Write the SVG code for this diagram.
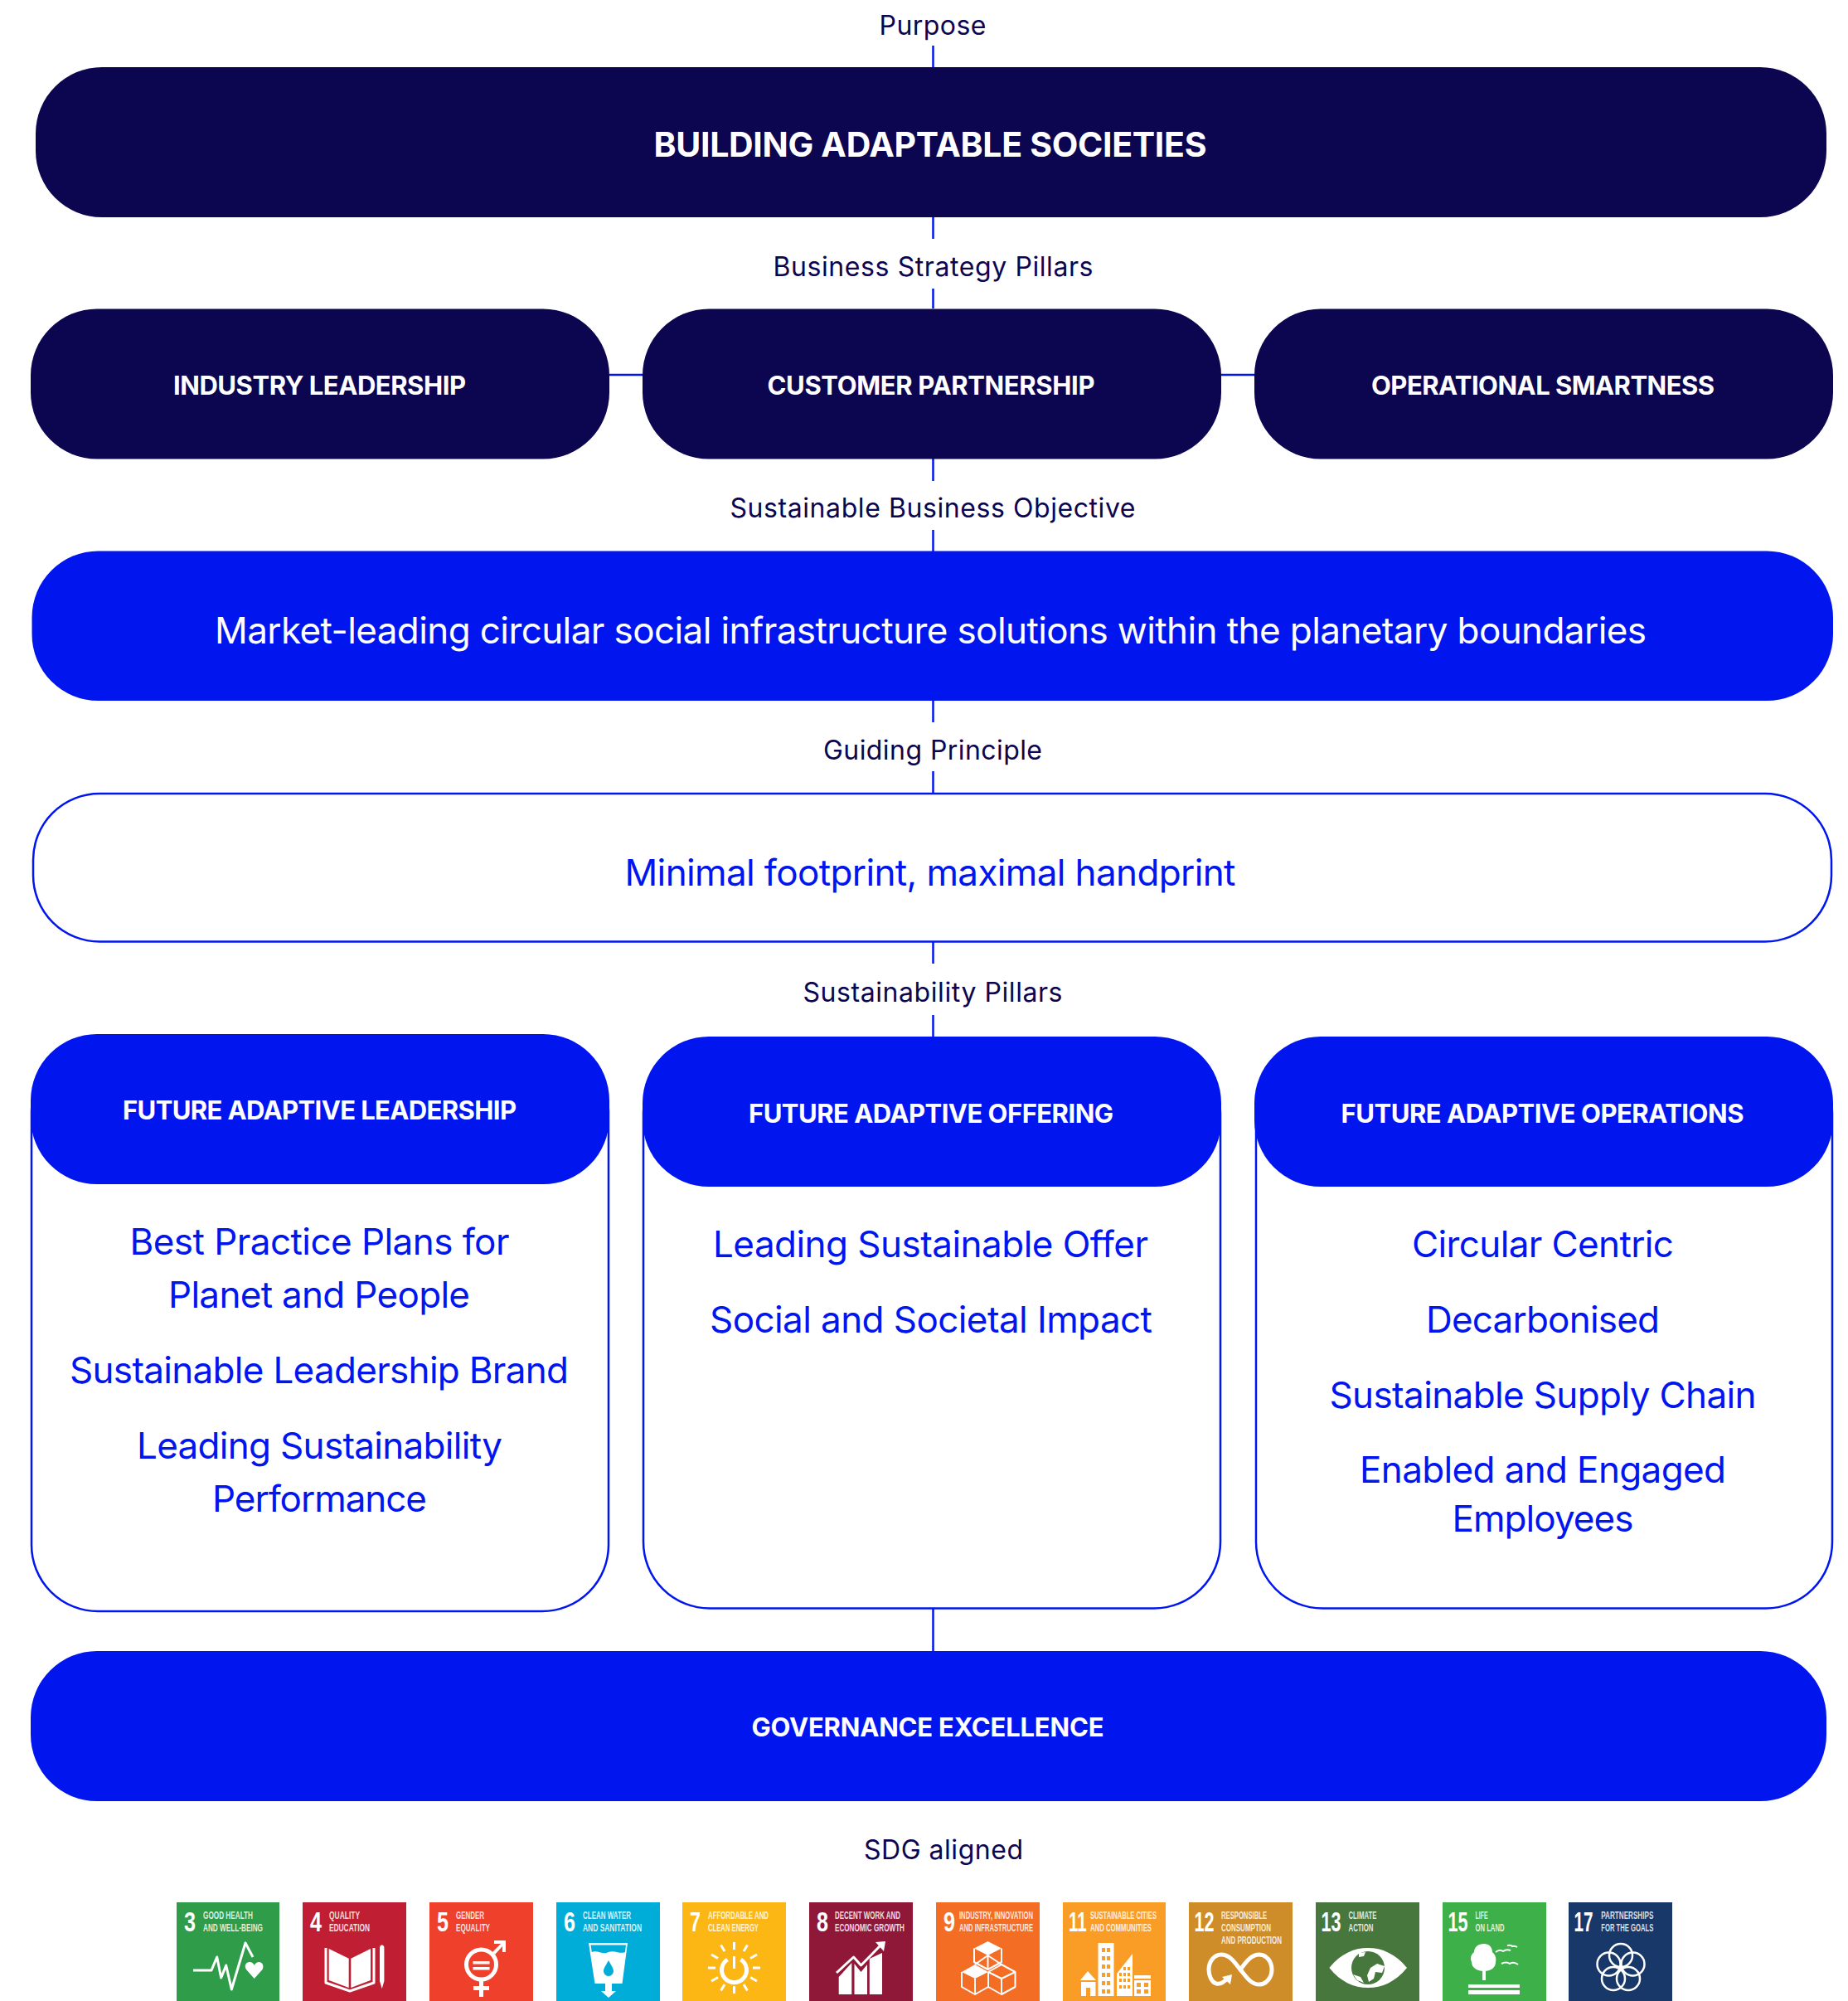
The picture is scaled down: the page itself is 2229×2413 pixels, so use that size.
<svg xmlns="http://www.w3.org/2000/svg" width="2229" height="2413" viewBox="0 0 2229 2413">
<style>
text{font-family:"Inter","Noto Sans","Liberation Sans",sans-serif;text-anchor:middle}
.lab{font-size:32px;fill:#0c0550}
.hd{font-size:31px;font-weight:700;fill:#fff}
.big{font-size:41px;font-weight:700;fill:#fff}
.body{font-size:44px;fill:#0116ee}
.bodyw{font-size:44px;fill:#fff}
.navy{fill:#0c0550}
.blue{fill:#0116ee}
.line{stroke:#0116ee;stroke-width:2.5;fill:none}
.out{stroke:#0116ee;stroke-width:2.5;fill:#fff}
.t text{font-family:"Liberation Sans Narrow","Liberation Sans",sans-serif;text-anchor:start;fill:#fff;font-weight:700}
.n{font-size:33px}
.s{font-size:12.5px;fill-opacity:.85}
.w{fill:#fff}
.st{fill:none;stroke:#fff;stroke-width:3;stroke-linejoin:round}
</style>
<rect width="2229" height="2413" fill="#fff"/>
<g id="connectors">
<path class="line" d="M1125.5 55V81M1125.5 262V288M1125.5 348V372M1125.5 553V580M1125.5 639V665M1125.5 845V871M1125.5 930V957M1125.5 1136V1162M1125.5 1224V1250M1125.5 1939V1991M735 452H775M1472 452H1513"/>
</g>
<g id="label-purpose"><text class="lab" x="1125" y="42" textLength="129">Purpose</text></g>
<g id="node-purpose"><rect class="navy" x="43" y="81" width="2160" height="181" rx="80"/><text class="big" x="1122" y="189" textLength="667">BUILDING ADAPTABLE SOCIETIES</text></g>
<g id="label-pillars"><text class="lab" x="1125.5" y="333" textLength="386">Business Strategy Pillars</text></g>
<g id="node-industry"><rect class="navy" x="37" y="372.500" width="698" height="181" rx="80"/><text class="hd" x="385.5" y="476" textLength="353">INDUSTRY LEADERSHIP</text></g>
<g id="node-customer"><rect class="navy" x="775" y="372.500" width="698" height="181" rx="80"/><text class="hd" x="1123" y="476" textLength="395">CUSTOMER PARTNERSHIP</text></g>
<g id="node-operational"><rect class="navy" x="1513" y="372.500" width="698" height="181" rx="80"/><text class="hd" x="1861" y="476" textLength="414">OPERATIONAL SMARTNESS</text></g>
<g id="label-objective"><text class="lab" x="1125" y="624" textLength="489">Sustainable Business Objective</text></g>
<g id="node-objective"><rect class="blue" x="38.5" y="664.500" width="2172.5" height="180.500" rx="80"/><text class="bodyw" x="1122.5" y="776" textLength="1727">Market-leading circular social infrastructure solutions within the planetary boundaries</text></g>
<g id="label-guiding"><text class="lab" x="1125" y="916" textLength="264">Guiding Principle</text></g>
<g id="node-guiding"><rect class="out" x="40" y="957" width="2169" height="178.5" rx="80"/><text class="body" x="1122" y="1067.500" textLength="737">Minimal footprint, maximal handprint</text></g>
<g id="label-sustainability"><text class="lab" x="1125" y="1207.500" textLength="313">Sustainability Pillars</text></g>
<g id="node-leadership">
<rect class="out" x="38" y="1260" width="696" height="683" rx="80"/>
<rect class="blue" x="37" y="1247" width="698" height="181" rx="80"/>
<text class="hd" x="385.5" y="1350" textLength="475">FUTURE ADAPTIVE LEADERSHIP</text>
<text class="body" x="385.5" y="1513" textLength="458">Best Practice Plans for</text>
<text class="body" x="385" y="1577" textLength="364">Planet and People</text>
<text class="body" x="385" y="1668" textLength="602">Sustainable Leadership Brand</text>
<text class="body" x="385.5" y="1759" textLength="441">Leading Sustainability</text>
<text class="body" x="385.5" y="1822.500" textLength="259">Performance</text>
</g>
<g id="node-offering">
<rect class="out" x="776" y="1262" width="696" height="677.5" rx="80"/>
<rect class="blue" x="775" y="1250" width="698" height="181" rx="80"/>
<text class="hd" x="1123" y="1354" textLength="440">FUTURE ADAPTIVE OFFERING</text>
<text class="body" x="1122.5" y="1516" textLength="525">Leading Sustainable Offer</text>
<text class="body" x="1123" y="1607" textLength="534">Social and Societal Impact</text>
</g>
<g id="node-operations">
<rect class="out" x="1515" y="1262" width="695" height="677.5" rx="80"/>
<rect class="blue" x="1513" y="1250" width="698" height="181" rx="80"/>
<text class="hd" x="1860.5" y="1354" textLength="486">FUTURE ADAPTIVE OPERATIONS</text>
<text class="body" x="1861" y="1516" textLength="316">Circular Centric</text>
<text class="body" x="1861" y="1607" textLength="282">Decarbonised</text>
<text class="body" x="1861" y="1697.500" textLength="515">Sustainable Supply Chain</text>
<text class="body" x="1861" y="1787.500" textLength="442">Enabled and Engaged</text>
<text class="body" x="1861" y="1846.500" textLength="219">Employees</text>
</g>
<g id="node-governance"><rect class="blue" x="37" y="1991" width="2166" height="181" rx="80"/><text class="hd" x="1119" y="2094" textLength="425">GOVERNANCE EXCELLENCE</text></g>
<g id="label-sdg"><text class="lab" x="1138" y="2242" textLength="192">SDG aligned</text></g>

<g id="sdg-3" class="t" transform="translate(213 2294)"><rect width="124" height="119" fill="#2f9c4a"/>
<text class="n" x="9" y="35" textLength="14" lengthAdjust="spacingAndGlyphs">3</text><text class="s" x="32" y="20" textLength="60" lengthAdjust="spacingAndGlyphs">GOOD HEALTH</text><text class="s" x="32" y="35" textLength="72" lengthAdjust="spacingAndGlyphs">AND WELL-BEING</text>
<path class="st" d="M20 82H42L48.7 66L53.7 91L59.7 76L66.3 105L83 49L92 66"/>
<path class="w" d="M93.7 92L84 81C81 76 84 72 88 72C91 72 93 74 93.7 76C94.5 74 97 72 99.5 72C103 72 106 76 103.5 81Z"/></g>

<g id="sdg-4" class="t" transform="translate(365 2294)"><rect width="125" height="119" fill="#c01f33"/>
<text class="n" x="9" y="35" textLength="14" lengthAdjust="spacingAndGlyphs">4</text><text class="s" x="32" y="20" textLength="37" lengthAdjust="spacingAndGlyphs">QUALITY</text><text class="s" x="32" y="35" textLength="49" lengthAdjust="spacingAndGlyphs">EDUCATION</text>
<path class="w" d="M31.7 56L55.7 67.7V103L31.7 94ZM82 56L58.3 67.7V103L82 94Z"/>
<path class="st" d="M28 55V97L57 107L86 97V55"/>
<path class="w" d="M93 55a2.7 3.5 0 0 1 5.4 0V95L95.7 104L93 95Z"/></g>

<g id="sdg-5" class="t" transform="translate(518 2294)"><rect width="125" height="119" fill="#ef402c"/>
<text class="n" x="9" y="35" textLength="14" lengthAdjust="spacingAndGlyphs">5</text><text class="s" x="32" y="20" textLength="34" lengthAdjust="spacingAndGlyphs">GENDER</text><text class="s" x="32" y="35" textLength="41" lengthAdjust="spacingAndGlyphs">EQUALITY</text>
<circle cx="62.5" cy="75" r="18" fill="none" stroke="#fff" stroke-width="5"/>
<path class="w" d="M52.5 71H72.5V74.5H52.5ZM52.5 78H72.5V81.5H52.5ZM60 94H65V101H72V106H65V114H60V106H53V101H60ZM76 60L86 50H78V46H92V60H88V53L79 63Z"/></g>

<g id="sdg-6" class="t" transform="translate(671 2294)"><rect width="125" height="119" fill="#00add8"/>
<text class="n" x="9" y="35" textLength="14" lengthAdjust="spacingAndGlyphs">6</text><text class="s" x="32" y="20" textLength="58" lengthAdjust="spacingAndGlyphs">CLEAN WATER</text><text class="s" x="32" y="35" textLength="71" lengthAdjust="spacingAndGlyphs">AND SANITATION</text>
<path class="w" d="M39 49H86L79.5 98H67V107H72L63 115L54 107H59V98H46.5ZM41.5 51.5L42.8 60C50 57 56 64 63 60C70 57 76 63 83 60L84 51.5Z"/>
<path fill="#00add8" d="M63 70C66 76 69 79 69 83A6 6 0 0 1 57 83C57 79 60 76 63 70Z"/></g>

<g id="sdg-7" class="t" transform="translate(823 2294)"><rect width="125" height="119" fill="#fdb714"/>
<text class="n" x="9" y="35" textLength="13" lengthAdjust="spacingAndGlyphs">7</text><text class="s" x="31" y="20" textLength="73" lengthAdjust="spacingAndGlyphs">AFFORDABLE AND</text><text class="s" x="31" y="35" textLength="61" lengthAdjust="spacingAndGlyphs">CLEAN ENERGY</text>
<path fill="none" stroke="#fff" stroke-width="5" d="M54.5 69A15 15 0 1 0 70.5 69"/>
<path fill="none" stroke="#fff" stroke-width="3" d="M62.5 65V80M62.5 48V57M62.5 101V110M31 79H40M85 79H94M46.5 51.5L51 59M74 99L78.500 106.500M35 63L43 67.500M82 90.500L90 95M78.500 51.500L74 59M51 99L46.500 106.500M90 63L82 67.500M43 90.500L35 95"/>
</g>

<g id="sdg-8" class="t" transform="translate(976 2294)"><rect width="125" height="119" fill="#8f1838"/>
<text class="n" x="9" y="35" textLength="14" lengthAdjust="spacingAndGlyphs">8</text><text class="s" x="31" y="20" textLength="79" lengthAdjust="spacingAndGlyphs">DECENT WORK AND</text><text class="s" x="31" y="35" textLength="84" lengthAdjust="spacingAndGlyphs">ECONOMIC GROWTH</text>
<path class="w" d="M35.700 90L51.300 73V111H35.700ZM54.500 74L62.500 84L70 75V111H54.500ZM72.800 68L88 61V111H72.800Z"/>
<path class="st" d="M33 85L53.600 66L62.500 76L85 53"/><path class="w" d="M80 48L92 47L90 59Z"/></g>

<g id="sdg-9" class="t" transform="translate(1129 2294)"><rect width="125" height="119" fill="#f36d25"/>
<text class="n" x="9" y="35" textLength="14" lengthAdjust="spacingAndGlyphs">9</text><text class="s" x="28" y="20" textLength="89" lengthAdjust="spacingAndGlyphs">INDUSTRY, INNOVATION</text><text class="s" x="28" y="35" textLength="89" lengthAdjust="spacingAndGlyphs">AND INFRASTRUCTURE</text>
<path class="w" d="M62.500 47L79 55.500L62.500 64L46 55.500ZM47 75L63 84L47 92L31 84Z"/>
<path fill="none" stroke="#fff" stroke-width="2" stroke-linejoin="round" d="M46 55.500V72L62.500 81L79 72V55.500M62.500 64V81M31 84V102L47 111L63 102V84M47 92V111M63 84L79 75L95.500 84V102L79 111L63 102M63 84L79 92L95.500 84M79 92V111M47 75L62.500 64M79 75L62.500 64"/></g>

<g id="sdg-11" class="t" transform="translate(1282 2294)"><rect width="124" height="119" fill="#f99d26"/>
<text class="n" transform="translate(7 35) scale(.62 1)">11</text><text class="s" x="33" y="20" textLength="80" lengthAdjust="spacingAndGlyphs">SUSTAINABLE CITIES</text><text class="s" x="33" y="35" textLength="74" lengthAdjust="spacingAndGlyphs">AND COMMUNITIES</text>
<path class="w" d="M42.500 49H61.500V113H42.500ZM30 83L40 94H21ZM22 96H39.500V113H33V103H28V113H22ZM65 86L84 62V113H65ZM86 88H106V92H86ZM86 94H106V113H86Z"/>
<path fill="#f99d26" d="M47 55h4v5h-4zM53 55h4v5h-4zM47 65h4v5h-4zM53 65h4v5h-4zM47 75h4v5h-4zM53 75h4v5h-4zM47 85h4v5h-4zM53 85h4v5h-4zM47 95h4v5h-4zM53 95h4v5h-4zM47 105h4v5h-4zM53 105h4v5h-4zM73 78h3v4h-3zM78 78h3v4h-3zM68 85h3v4h-3zM73 85h3v4h-3zM78 85h3v4h-3zM68 92h3v4h-3zM73 92h3v4h-3zM78 92h3v4h-3zM68 100h3v4h-3zM73 100h3v4h-3zM78 100h3v4h-3zM89 97h5v5h-5zM98 97h5v5h-5zM89 105h5v5h-5zM98 105h5v5h-5z"/></g>

<g id="sdg-12" class="t" transform="translate(1434 2294)"><rect width="125" height="119" fill="#cf8d2a"/>
<text class="n" x="6.500" y="35" textLength="24" lengthAdjust="spacingAndGlyphs">12</text><text class="s" x="39" y="20" textLength="55" lengthAdjust="spacingAndGlyphs">RESPONSIBLE</text><text class="s" x="39" y="35" textLength="60" lengthAdjust="spacingAndGlyphs">CONSUMPTION</text><text class="s" x="39" y="50" textLength="73" lengthAdjust="spacingAndGlyphs">AND PRODUCTION</text>
<path fill="none" stroke="#fff" stroke-width="5" d="M47 91C42 97 37 99 33 98C27 96 24 88 24 81C24 72 30 63 39 63C50 63 56 74 62 81C68 88 74 99 85 99C94 99 100 90 100 81C100 72 94 63 85 63C74 63 68 74 62 81"/>
<path class="w" d="M40 90L52 87L50 99Z"/></g>

<g id="sdg-13" class="t" transform="translate(1587 2294)"><rect width="125" height="119" fill="#48773e"/>
<text class="n" x="6.500" y="35" textLength="24" lengthAdjust="spacingAndGlyphs">13</text><text class="s" x="39.500" y="20" textLength="34" lengthAdjust="spacingAndGlyphs">CLIMATE</text><text class="s" x="39.500" y="35" textLength="30" lengthAdjust="spacingAndGlyphs">ACTION</text>
<path class="w" d="M16.400 79C30 62 46 55 63 55C80 55 96 62 110 79C96 96 80 103 63 103C46 103 30 96 16.400 79Z"/>
<circle cx="63" cy="79" r="20" fill="#48773e"/>
<path class="w" d="M52 61L60 60L58 65L52 66ZM66 79L74 74L83 77L80 85L72 84L70 92L64 96L62 88ZM45 87L54 90L58 97L50 94Z"/></g>

<g id="sdg-15" class="t" transform="translate(1740 2294)"><rect width="125" height="119" fill="#3eb049"/>
<text class="n" x="6.500" y="35" textLength="24" lengthAdjust="spacingAndGlyphs">15</text><text class="s" x="39.500" y="20" textLength="15" lengthAdjust="spacingAndGlyphs">LIFE</text><text class="s" x="39.500" y="35" textLength="35" lengthAdjust="spacingAndGlyphs">ON LAND</text>
<path class="w" d="M50 50C56 50 60 54 60 60C64 63 65 68 64 72C64 79 58 83 50 83C42 83 35 79 35 72C33 68 34 63 38 60C38 54 43 50 50 50ZM48 83H52V94H48ZM31 99H93V103H31ZM31 106H93V111H31Z"/>
<path fill="none" stroke="#fff" stroke-width="2" d="M64 60Q69 56 73 59Q77 56 82 58M78 52Q83 51 84 53Q87 52 90 54M71 74Q77 71 81 74Q86 71 91 75"/></g>

<g id="sdg-17" class="t" transform="translate(1892 2294)"><rect width="125" height="119" fill="#19386a"/>
<text class="n" x="6.500" y="35" textLength="23" lengthAdjust="spacingAndGlyphs">17</text><text class="s" x="39.300" y="20" textLength="63" lengthAdjust="spacingAndGlyphs">PARTNERSHIPS</text><text class="s" x="39.300" y="35" textLength="63" lengthAdjust="spacingAndGlyphs">FOR THE GOALS</text>
<g fill="none" stroke="#fff" stroke-width="2.500"><circle cx="63" cy="64" r="14"/><circle cx="77.500" cy="74.500" r="14"/><circle cx="72" cy="92" r="14"/><circle cx="54" cy="92" r="14"/><circle cx="48.500" cy="74.500" r="14"/></g></g>
</svg>
